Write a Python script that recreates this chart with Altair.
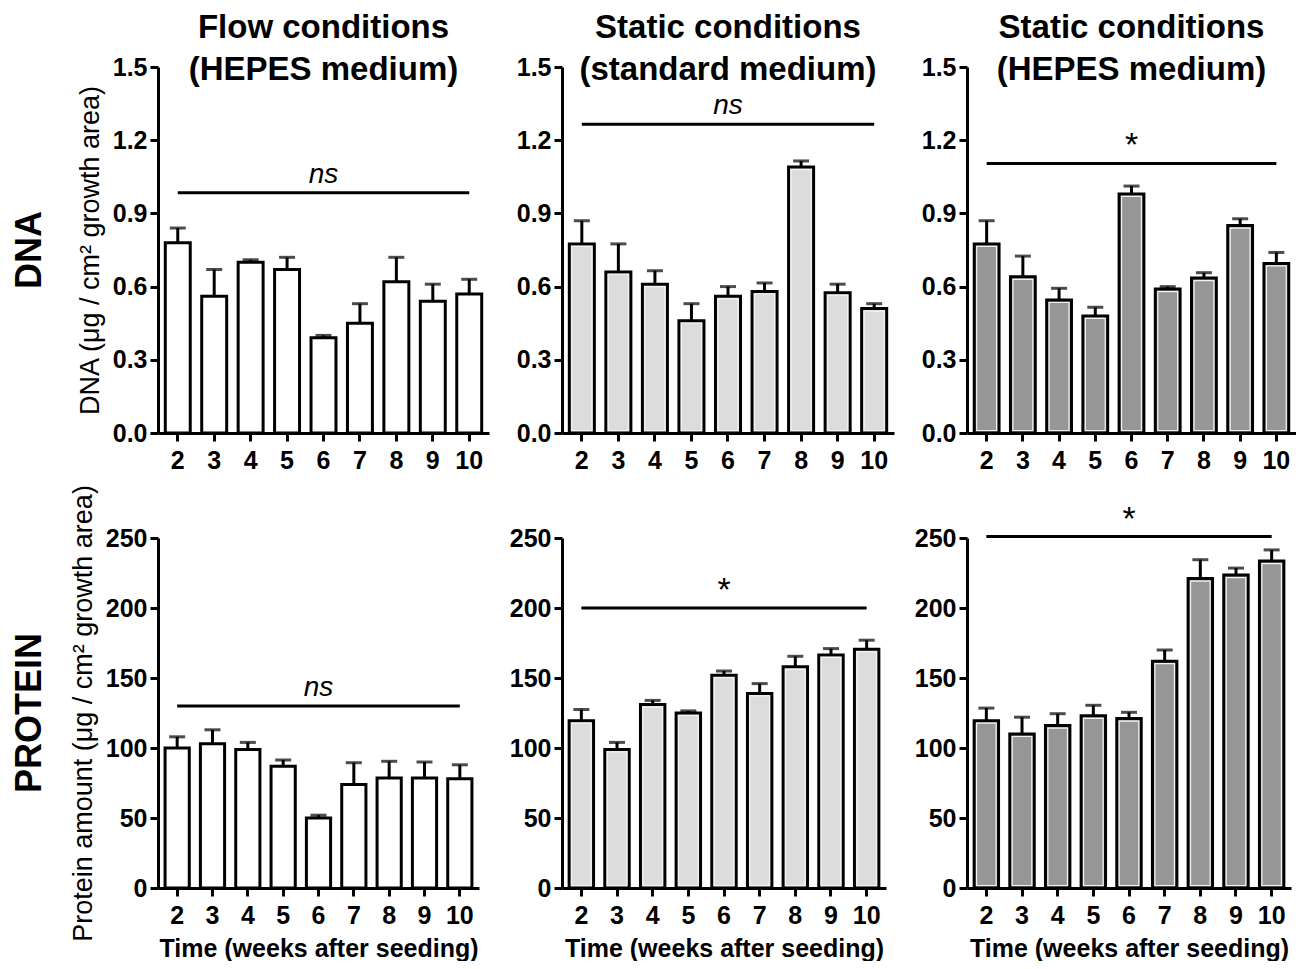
import altair as alt
import pandas as pd

weeks = ["2", "3", "4", "5", "6", "7", "8", "9", "10"]

# DNA (ug / cm2 growth area): mean and mean+SEM
dna_flow_mean = [0.78, 0.56, 0.70, 0.67, 0.39, 0.45, 0.62, 0.54, 0.57]
dna_flow_upper = [0.84, 0.67, 0.71, 0.72, 0.40, 0.53, 0.72, 0.61, 0.63]
dna_std_mean = [0.775, 0.66, 0.61, 0.46, 0.56, 0.58, 1.09, 0.575, 0.51]
dna_std_upper = [0.87, 0.775, 0.665, 0.53, 0.60, 0.615, 1.115, 0.61, 0.53]
dna_hep_mean = [0.775, 0.64, 0.545, 0.48, 0.98, 0.59, 0.635, 0.85, 0.695]
dna_hep_upper = [0.87, 0.725, 0.593, 0.515, 1.012, 0.60, 0.657, 0.878, 0.74]

# Protein amount (ug / cm2 growth area): mean and mean+SEM
prot_flow_mean = [100, 103, 99, 87, 50, 74, 78.5, 78.5, 78]
prot_flow_upper = [108, 113, 104, 91.5, 52, 89.5, 90.5, 90, 88]
prot_std_mean = [119.5, 99, 131, 125, 152, 139, 158, 166.5, 170.5]
prot_std_upper = [127.5, 104, 134, 126.5, 155, 146, 165.5, 171, 177]
prot_hep_mean = [119.5, 110, 116, 123, 121, 162, 221, 223.5, 233.5]
prot_hep_upper = [128.5, 122, 124.5, 130.5, 125.5, 170, 234.5, 228.5, 241.5]

# significance annotations
dna_sig_text = ["ns", "ns", "*"]
dna_sig_y = [0.985, 1.265, 1.105]
prot_sig_text = ["ns", "*", "*"]
prot_sig_y = [130, 200, 251]

col_titles = [["Flow conditions", "(HEPES medium)"],
              ["Static conditions", "(standard medium)"],
              ["Static conditions", "(HEPES medium)"]]
fills = ["#ffffff", "#dcdcdc", "#969696"]

dna_ticks = [0.0, 0.3, 0.6, 0.9, 1.2, 1.5]
prot_ticks = [0, 50, 100, 150, 200, 250]

FONT = "Liberation Sans"


def panel(mean, upper, fill, domain, ticks, fmt, sig_text, sig_y, width, height,
          title=None, ytitle=None, xtitle=None, rowlabel=None):
    df = pd.DataFrame({"week": weeks, "mean": mean, "upper": upper})
    xscale = alt.Scale(domain=weeks, paddingInner=0.315, paddingOuter=0.2)
    xaxis = alt.Axis(labelAngle=0, title=xtitle if xtitle else None, labelPadding=7,
                     titleFontSize=25, titleFontWeight="bold", titlePadding=8)
    x = alt.X("week:N", scale=xscale, axis=xaxis)
    yscale = alt.Scale(domain=domain, nice=False, zero=True)
    yaxis = alt.Axis(values=ticks, format=fmt, title=ytitle if ytitle else None,
                     titleFontSize=27, titleFontWeight="normal", titlePadding=8)
    base = alt.Chart(df)
    bars = base.mark_bar(fill=fill, stroke="black", strokeWidth=3).encode(
        x=x, y=alt.Y("mean:Q", scale=yscale, axis=yaxis))
    inner = base.mark_bar(fillOpacity=0, stroke="#f2f2f2", strokeWidth=1.2,
                          width=alt.RelativeBandSize(0.8), yOffset=2.5, y2Offset=-2.5).encode(
        x=alt.X("week:N"), y="mean:Q", y2=alt.datum(0))
    err = base.mark_rule(color="black", strokeWidth=3).encode(
        x=alt.X("week:N"), y="mean:Q", y2="upper:Q")
    cap = base.mark_tick(color="black", thickness=3, size=16, orient="horizontal").encode(
        x=alt.X("week:N"), y="upper:Q")
    sdf = pd.DataFrame({"a": ["2"], "b": ["10"], "mid": ["6"], "y": [sig_y], "t": [sig_text]})
    sbase = alt.Chart(sdf)
    srule = sbase.mark_rule(color="black", strokeWidth=3).encode(
        x=alt.X("a:N", bandPosition=0.5),
        x2=alt.X2("b", bandPosition=0.5),
        y="y:Q")
    is_star = sig_text == "*"
    stext = sbase.mark_text(
        font=FONT,
        fontSize=34 if is_star else 28,
        fontStyle="normal" if is_star else "italic",
        baseline="bottom" if not is_star else "middle",
        dy=-4 if not is_star else -17,
        color="black",
    ).encode(x=alt.X("mid:N"), y="y:Q", text="t:N")
    layers = [bars]
    if fill != "#ffffff":
        layers.append(inner)
    layers += [err, cap, srule, stext]
    if rowlabel:
        rl = alt.Chart(pd.DataFrame({"t": [rowlabel]})).mark_text(
            font=FONT, fontSize=36, fontWeight="bold", angle=270, color="black",
            align="center", baseline="middle"
        ).encode(text="t:N", x=alt.value(-128), y=alt.value(height / 2))
        layers.append(rl)
    ch = alt.layer(*layers).properties(width=width, height=height)
    if title:
        ch = ch.properties(title=alt.Title(title, fontSize=33, fontWeight="bold", font=FONT,
                                           anchor="middle", offset=-32, lineHeight=42,
                                           color="black"))
    return ch


dna_widths = [331, 332, 329]
prot_widths = [321, 324, 324]
charts = []
dna_means = [dna_flow_mean, dna_std_mean, dna_hep_mean]
dna_uppers = [dna_flow_upper, dna_std_upper, dna_hep_upper]
prot_means = [prot_flow_mean, prot_std_mean, prot_hep_mean]
prot_uppers = [prot_flow_upper, prot_std_upper, prot_hep_upper]

for i in range(3):
    charts.append(panel(dna_means[i], dna_uppers[i], fills[i], [0, 1.5], dna_ticks, ".1f",
                        dna_sig_text[i], dna_sig_y[i], dna_widths[i], 366,
                        title=col_titles[i],
                        ytitle="DNA (\u03bcg / cm\u00b2 growth area)" if i == 0 else None,
                        rowlabel="DNA" if i == 0 else None))
for i in range(3):
    charts.append(panel(prot_means[i], prot_uppers[i], fills[i], [0, 250], prot_ticks, "d",
                        prot_sig_text[i], prot_sig_y[i], prot_widths[i], 350,
                        ytitle="Protein amount (\u03bcg / cm\u00b2 growth area)" if i == 0 else None,
                        xtitle="Time (weeks after seeding)",
                        rowlabel="PROTEIN" if i == 0 else None))

chart = alt.concat(*charts, columns=3, spacing={"row": 11, "column": 20}).properties(
    padding={"left": 4, "top": 4, "right": 0, "bottom": 0}
).configure_view(stroke=None).configure_axis(
    labelFont=FONT, titleFont=FONT, labelFontSize=25, labelFontWeight="bold",
    labelColor="black", titleColor="black", domainColor="black", tickColor="black",
    domainWidth=3, tickWidth=3, tickSize=8, labelPadding=3, grid=False
)

chart.save("out.html", embed_options={"renderer": "svg", "actions": False})
